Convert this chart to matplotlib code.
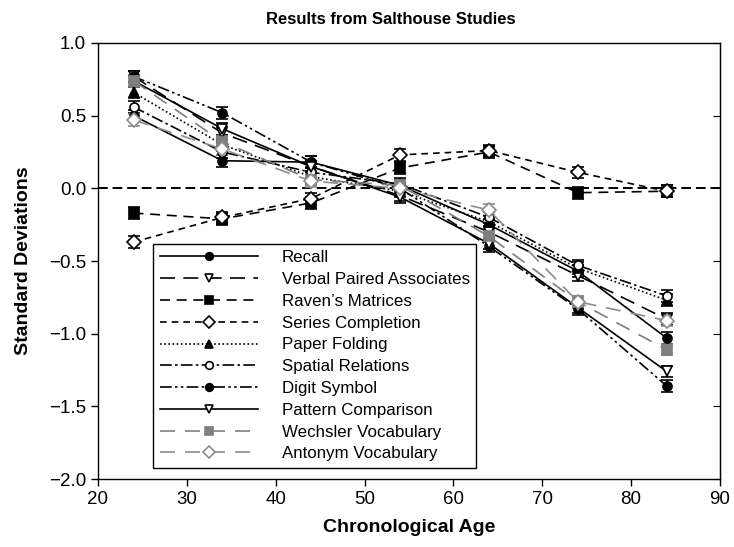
import matplotlib
matplotlib.use("Agg")
import matplotlib.pyplot as plt
from matplotlib.lines import Line2D
from matplotlib.ticker import MultipleLocator

plt.rcParams['font.family'] = ['Liberation Sans', 'DejaVu Sans']

# ages at which each group was tested
ages = [24, 34, 44, 54, 64, 74, 84]

# mean z-scores per measure
recall = [0.50, 0.19, 0.18, 0.02, -0.25, -0.57, -1.03]
verbal_paired = [0.77, 0.38, 0.15, -0.05, -0.30, -0.60, -0.90]
ravens = [-0.17, -0.21, -0.10, 0.14, 0.25, -0.03, -0.02]
series_completion = [-0.37, -0.20, -0.07, 0.23, 0.26, 0.11, -0.02]
paper_folding = [0.66, 0.30, 0.08, -0.02, -0.23, -0.55, -0.77]
spatial_relations = [0.56, 0.25, 0.11, 0.03, -0.20, -0.53, -0.74]
digit_symbol = [0.77, 0.52, 0.18, 0.00, -0.40, -0.83, -1.36]
pattern_comparison = [0.74, 0.41, 0.15, -0.06, -0.38, -0.82, -1.26]
wechsler_vocab = [0.74, 0.32, 0.06, 0.02, -0.33, -0.78, -1.11]
antonym_vocab = [0.47, 0.27, 0.05, 0.00, -0.15, -0.78, -0.91]

# standard error (same bar size throughout)
sem = [0.04, 0.04, 0.04, 0.04, 0.04, 0.04, 0.04]

labels = ["Recall", "Verbal Paired Associates", "Raven\u2019s Matrices",
          "Series Completion", "Paper Folding", "Spatial Relations",
          "Digit Symbol", "Pattern Comparison", "Wechsler Vocabulary",
          "Antonym Vocabulary"]
series = [recall, verbal_paired, ravens, series_completion, paper_folding,
          spatial_relations, digit_symbol, pattern_comparison,
          wechsler_vocab, antonym_vocab]

# (color, linestyle, marker, marker face)
styles = [
    ('black', '-', 'o', 'black'),
    ('black', (0, (9, 5)), 'v', 'white'),
    ('black', (0, (6, 4)), 's', 'black'),
    ('black', (0, (4, 3)), 'D', 'white'),
    ('black', (0, (1, 1.5)), '^', 'black'),
    ('black', (0, (7, 2, 1.5, 2)), 'o', 'white'),
    ('black', (0, (7, 2, 1.5, 2, 1.5, 2)), 'o', 'black'),
    ('black', '-', 'v', 'white'),
    ('#7f7f7f', (0, (9, 6)), 's', '#7f7f7f'),
    ('#8c8c8c', (0, (9, 6)), 'D', 'white'),
]

fig = plt.figure(figsize=(7.34, 5.47), dpi=100)
ax = fig.add_axes([0.1335, 0.1243, 0.8474, 0.7971])

ax.axhline(0, color='black', lw=1.4, ls=(0, (5, 2.5)), zorder=1)

handles = []
for vals, lab, (c, ls, mk, mfc) in zip(series, labels, styles):
    ms = 7 if mk in ('D', 'v', '^') else 6.5
    ax.errorbar(ages, vals, yerr=sem, color=c, ls=ls, lw=1.2,
                marker=mk, ms=ms, mfc=mfc, mec=c, mew=1.2,
                ecolor=c, elinewidth=1.2, capsize=4, capthick=1.6,
                zorder=3)
    handles.append(Line2D([], [], color=c, ls=ls, lw=1.2, marker=mk, ms=ms * 0.85,
                          mfc=mfc, mec=c, mew=1.2, label=lab))

ax.set_xlim(20, 90)
ax.set_ylim(-2.0, 1.0)
ax.xaxis.set_major_locator(MultipleLocator(10))
ax.yaxis.set_major_locator(MultipleLocator(0.5))
ax.yaxis.set_major_formatter(plt.FuncFormatter(lambda v, p: f"{v:.1f}".replace('-', '\u2212')))
ax.tick_params(axis='both', direction='out', length=5, width=1, labelsize=13.5)

sec = ax.secondary_yaxis('right')
sec.yaxis.set_major_locator(MultipleLocator(0.5))
sec.tick_params(direction='in', length=5, labelright=False)

for sp in ax.spines.values():
    sp.set_linewidth(1)

ax.set_title("Results from Salthouse Studies", fontsize=12, fontweight='bold',
             pad=14, x=0.47)
ax.set_xlabel("Chronological Age", fontsize=14, fontweight='bold', labelpad=8)
ax.set_ylabel("Standard Deviations", fontsize=14, fontweight='bold', labelpad=12)

leg = ax.legend(handles=handles, loc='lower left', bbox_to_anchor=(0.088, 0.025),
                borderaxespad=0, fontsize=12.2, handlelength=5.8, handletextpad=1.4,
                labelspacing=0.40, borderpad=0.4, fancybox=False, framealpha=1,
                edgecolor='black')
leg.get_frame().set_linewidth(1)

fig.savefig("out.png", dpi=100)
